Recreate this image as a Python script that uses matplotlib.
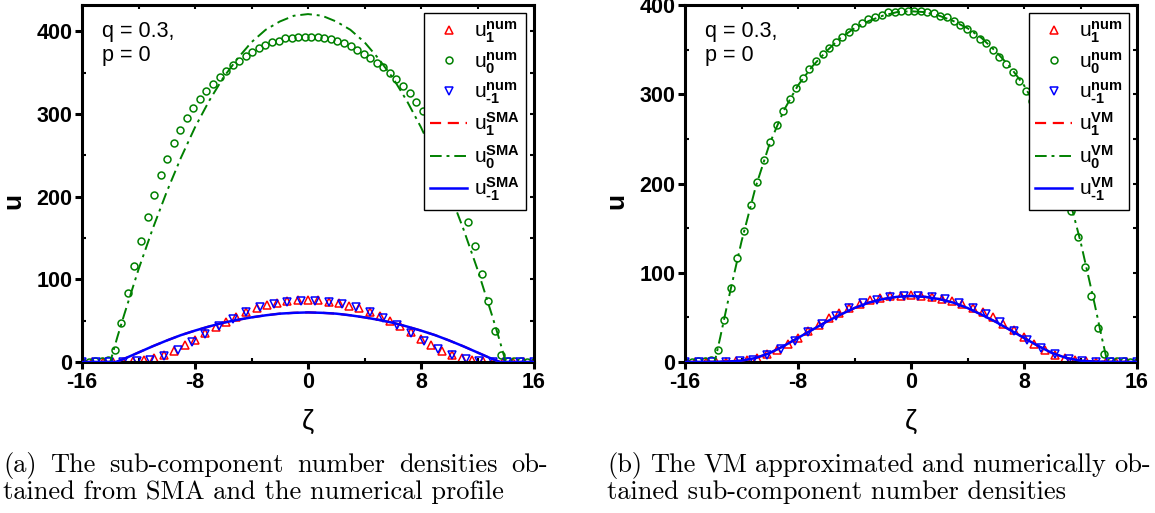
import numpy as np
import matplotlib
matplotlib.use("Agg")
import matplotlib.pyplot as plt
from matplotlib.ticker import MultipleLocator

plt.rcParams["font.family"] = ["Liberation Sans", "DejaVu Sans"]
plt.rcParams["axes.unicode_minus"] = False
plt.rcParams["mathtext.fontset"] = "custom"
plt.rcParams["mathtext.rm"] = "Liberation Sans"
plt.rcParams["mathtext.bf"] = "Liberation Sans:bold"
plt.rcParams["mathtext.it"] = "Liberation Sans:italic"

# numerical profiles (markers), same in both panels
zeta_u1_num = np.linspace(-16, 16, 45)
u1_num = [0, 0, 0, 0, 0.5, 1.2, 2.5, 5, 9, 13.5, 20, 27, 35, 42, 49, 55, 61,
          65.5, 69, 71.5, 73.5, 74.5, 75,
          74.5, 73, 71, 68, 65, 61, 56, 50, 43, 36, 28, 20, 13, 8, 5, 2.6,
          1.2, 0.4, 0, 0, 0, 0]

zeta_u0_num = np.linspace(-16, 16, 70)
u0_num = [0, 0.5, 1, 1.5, 2, 14, 47, 83, 116, 147, 176, 202, 226, 246, 265,
          281, 295, 307, 318, 328, 337, 345, 352, 359, 364, 370, 375, 380,
          384, 387, 389, 392, 392.5, 393, 393,
          393, 393, 392, 391, 388, 386, 382, 378, 373, 368, 362, 357, 350,
          342, 334, 325, 315, 304, 292, 278, 262, 242, 221, 196, 169, 140,
          107, 74, 38, 9, 1, 1, 1, 0.5, 0]

zeta_um1_num = np.linspace(-16, 16, 34)
um1_num = [0, 0, 0, 0.3, 1.2, 2.5, 7.5, 14.5, 24, 33.5, 43, 52, 60, 66, 70,
           72.5, 73.5, 74, 73, 70.5, 66.5, 61, 53.5, 45, 35, 25, 16, 8.5,
           3.5, 1.5, 0.4, 0, 0, 0]

# SMA (panel a)
zeta_sma0 = [-16, -14, -13.5, -13, -12, -11, -10, -9, -8, -7, -6, -5, -4, -3,
             -2, -1, 0, 1, 2, 3, 4, 5, 6, 7, 8, 9, 10, 11, 12, 13, 13.5, 14, 16]
u0_sma = [0, 0, 30, 58, 112, 161, 206, 247, 284, 316, 344, 367, 387, 402, 412,
          419, 421, 419, 412, 402, 387, 367, 344, 316, 284, 247, 206, 161, 112,
          58, 30, 0, 0]
zeta_sma1 = [-16, -13.6, -13, -12, -11, -10, -9, -8, -7, -6, -5, -4, -3, -2,
             -1, 0, 1, 2, 3, 4, 5, 6, 7, 8, 9, 10, 11, 12, 13, 13.6, 16]
u1_sma = [0, 0, 4, 11.5, 19, 26, 32.5, 38, 43, 47.5, 51, 54, 56.5, 58.5, 59.5,
          60, 59.5, 58.5, 56.5, 54, 51, 47.5, 43, 38, 32.5, 26, 19, 11.5, 4,
          0, 0]

# VM (panel b)
zeta_vm0 = [-16, -13.9, -13.5, -13, -12, -11, -10, -9, -8, -7, -6, -5, -4, -3,
            -2, -1, 0, 1, 2, 3, 4, 5, 6, 7, 8, 9, 10, 11, 12, 13, 13.5, 13.9, 16]
u0_vm = [0, 0, 28, 65, 135, 196, 245, 282, 310, 331, 348, 363, 374, 382, 388,
         392, 393, 392, 388, 382, 374, 363, 348, 331, 310, 282, 245, 196, 135,
         65, 28, 0, 0]
zeta_vm1 = [-16, -14, -13, -12, -11, -10, -9, -8, -7, -6, -5, -4, -3, -2, -1,
            0, 1, 2, 3, 4, 5, 6, 7, 8, 9, 10, 11, 12, 13, 14, 16]
u1_vm = [0, 0.2, 0.5, 1.5, 4.5, 10, 18, 27, 36, 45, 53, 60.5, 66.5, 70.5, 73,
         74, 73, 70.5, 66.5, 60.5, 53, 45, 36, 27, 18, 10, 4.5, 1.5, 0.5, 0.2, 0]

caption_a = ["(a) The sub-component number densities ob-",
             "tained from SMA and the numerical profile"]
caption_b = ["(b) The VM approximated and numerically ob-",
             "tained sub-component number densities"]

RED = "#ff0000"
GREEN = "#008000"
BLUE = "#0000ff"
W, H = 1155, 513


def label(sub, sup):
    return r"$\mathrm{u}_{\mathbf{%s}}^{\mathbf{%s}}$" % (sub, sup)


def draw_panel(ax, zeta0, u0_fit, zeta1, u1_fit, tag, ymax):
    ax.plot(zeta_u1_num, u1_num, ls="none", marker="^", ms=5.5, mfc="none",
            mec=RED, mew=1.1, label=label("1", "num"))
    ax.plot(zeta_u0_num, u0_num, ls="none", marker="o", ms=5, mfc="none",
            mec=GREEN, mew=1.1, label=label("0", "num"))
    ax.plot(zeta_um1_num, um1_num, ls="none", marker="v", ms=5.5, mfc="none",
            mec=BLUE, mew=1.1, label=label("\u20101", "num"))
    ax.plot(zeta1, u1_fit, color=RED, ls=(0, (5, 3)), lw=1.6, zorder=3,
            label=label("1", tag))
    ax.plot(zeta0, u0_fit, color=GREEN, ls=(0, (6, 2.5, 1.5, 2.5)), lw=1.4,
            zorder=3, label=label("0", tag))
    ax.plot(zeta1, u1_fit, color=BLUE, ls="-", lw=1.8, zorder=4,
            label=label("\u20101", tag))

    ax.set_xlim(-16, 16)
    ax.set_ylim(0, ymax)
    ax.xaxis.set_major_locator(MultipleLocator(8))
    ax.xaxis.set_minor_locator(MultipleLocator(4))
    ax.yaxis.set_major_locator(MultipleLocator(100))
    ax.yaxis.set_minor_locator(MultipleLocator(50))
    for s in ax.spines.values():
        s.set_linewidth(2.2)
    ax.tick_params(which="major", direction="out", length=5, width=2.2,
                   labelsize=15.5, pad=2)
    ax.tick_params(which="minor", direction="in", length=3, width=1.5)
    for lab in ax.get_xticklabels() + ax.get_yticklabels():
        lab.set_fontweight("bold")

    # inward ticks on the right and top spines
    sec_y = ax.secondary_yaxis("right")
    sec_y.yaxis.set_major_locator(MultipleLocator(100))
    sec_y.yaxis.set_minor_locator(MultipleLocator(50))
    sec_y.tick_params(which="both", direction="in", length=3, width=1.5,
                      labelright=False)
    sec_y.spines["right"].set_visible(False)
    sec_x = ax.secondary_xaxis("top")
    sec_x.xaxis.set_major_locator(MultipleLocator(8))
    sec_x.xaxis.set_minor_locator(MultipleLocator(4))
    sec_x.tick_params(which="both", direction="in", length=3, width=1.5,
                      labeltop=False)
    sec_x.spines["top"].set_visible(False)

    ax.set_xlabel("ζ", fontsize=20, labelpad=12)
    ax.set_ylabel("u", fontsize=19, fontweight="bold")
    ax.yaxis.set_label_coords(-0.125, 0.45)
    ax.text(0.045, 0.955, "q = 0.3,\np = 0", transform=ax.transAxes,
            fontsize=15.5, va="top", ha="left", linespacing=1.2)

    leg = ax.legend(loc="upper right", fontsize=15, numpoints=1,
                    handlelength=1.8, handletextpad=0.3, labelspacing=0.24,
                    borderaxespad=0.4, fancybox=False, framealpha=1,
                    edgecolor="black", borderpad=0.3)
    leg.get_frame().set_linewidth(1.0)


def caption(fig, lines, x0, x1, y0, dy, **kw):
    # first line justified between x0 and x1, last line left aligned
    renderer = fig.canvas.get_renderer()
    words = lines[0].split()
    arts = [fig.text(0, 1 - y0 / H, w, **kw) for w in words]
    widths = [a.get_window_extent(renderer).width for a in arts]
    gap = (x1 - x0 - sum(widths)) / (len(words) - 1)
    x = x0
    for a, w in zip(arts, widths):
        a.set_x(x / W)
        x += w + gap
    fig.text(x0 / W, 1 - (y0 + dy) / H, lines[1], **kw)


fig = plt.figure(figsize=(W / 100, H / 100), dpi=100)
ax_a = fig.add_axes([82 / W, 1 - 362 / H, 452 / W, 357 / H])
ax_b = fig.add_axes([685 / W, 1 - 362 / H, 452 / W, 357 / H])

draw_panel(ax_a, zeta_sma0, u0_sma, zeta_sma1, u1_sma, "SMA", 432)
draw_panel(ax_b, zeta_vm0, u0_vm, zeta_vm1, u1_vm, "VM", 400)

cap_kw = dict(family="cmr10", fontsize=19, va="baseline", ha="left")
caption(fig, caption_a, 3, 548, 472, 27, **cap_kw)
caption(fig, caption_b, 607, 1151, 472, 27, **cap_kw)

fig.savefig("out.png", dpi=100)
